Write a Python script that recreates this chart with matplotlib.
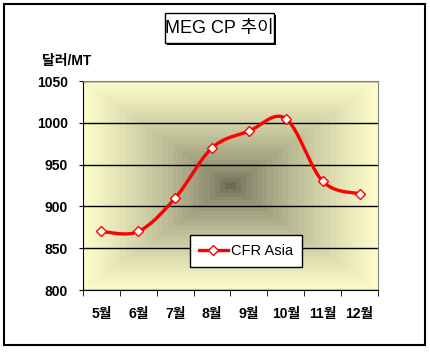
import numpy as np
import matplotlib
matplotlib.use('Agg')
from matplotlib import pyplot as plt
from matplotlib.patches import Rectangle
from matplotlib.colors import LinearSegmentedColormap

plt.rcParams['font.family'] = ['Liberation Sans', 'Noto Sans CJK KR']

months = ['5월', '6월', '7월', '8월', '9월', '10월', '11월', '12월']
cfr_asia = [870, 870, 910, 970, 990, 1005, 930, 915]
y_ticks = [800, 850, 900, 950, 1000, 1050]

W, H = 431, 354
fig = plt.figure(figsize=(W / 100, H / 100), dpi=100)

# outer frame
fig.patches.append(Rectangle((4 / W, 1 - 345 / H), 421 / W, 341 / H, transform=fig.transFigure,
                             fill=False, edgecolor='black', lw=1.5))

ax = fig.add_axes([83 / W, 1 - 290 / H, 295 / W, 209 / H])

# square "from centre" gradient like excel
ny, nx = 209, 295
gx = np.abs(np.linspace(-1, 1, nx))
gy = np.abs(np.linspace(-1, 1, ny))
d = np.maximum(gx[None, :], gy[:, None])
d = np.floor(d * 28) / 28
d = d ** 0.7
cmap = LinearSegmentedColormap.from_list('bg', ['#6d6d57', '#ffffcc'])
ax.imshow(d, cmap=cmap, vmin=0, vmax=1, extent=[-0.5, 7.5, 800, 1050],
          aspect='auto', zorder=-1, interpolation='nearest')

# smoothed line (catmull-rom like excel smoothing)
x = np.arange(len(cfr_asia), dtype=float)
y = np.array(cfr_asia, dtype=float)
px = np.concatenate([[x[0]], x, [x[-1]]])
py = np.concatenate([[y[0]], y, [y[-1]]])
sx, sy = [], []
t = np.linspace(0, 1, 30)
for i in range(1, len(px) - 2):
    p0, p1, p2, p3 = (px[i - 1], py[i - 1]), (px[i], py[i]), (px[i + 1], py[i + 1]), (px[i + 2], py[i + 2])
    c1 = (p1[0] + (p2[0] - p0[0]) / 6, p1[1] + (p2[1] - p0[1]) / 6)
    c2 = (p2[0] - (p3[0] - p1[0]) / 6, p2[1] - (p3[1] - p1[1]) / 6)
    for a, b in [(0, sx), (1, sy)]:
        b.extend((1 - t) ** 3 * p1[a] + 3 * (1 - t) ** 2 * t * c1[a] + 3 * (1 - t) * t ** 2 * c2[a] + t ** 3 * p2[a])
ax.plot(sx, sy, color='#ff0000', lw=2.4, zorder=3, solid_capstyle='round')
ax.plot(x, y, ls='none', marker='D', ms=5.5, mfc='white', mec='#ff0000', mew=1, zorder=4)
ax.plot([], [], color='#ff0000', lw=2.4, marker='D', ms=5.5, mfc='white', mec='#ff0000',
        mew=1, label='CFR Asia')

ax.set_xlim(-0.5, 7.5)
ax.set_ylim(800, 1050)
ax.set_yticks(y_ticks)
ax.set_yticklabels([str(v) for v in y_ticks], fontsize=10, fontweight='bold')
ax.set_xticks(x)
ax.set_xticklabels(months, fontsize=10, fontweight='bold')
ax.set_xticks(np.arange(-0.5, 8, 1), minor=True)
ax.tick_params(axis='x', which='major', length=0, pad=12)
ax.tick_params(axis='x', which='minor', length=4, direction='out', color='black')
ax.tick_params(axis='y', length=3, direction='out', pad=8)
ax.yaxis.grid(True, color='black', lw=1)
ax.set_axisbelow(True)
for s in ['top', 'right']:
    ax.spines[s].set_color('#808080')
for s in ['left', 'bottom']:
    ax.spines[s].set_color('black')

leg = ax.legend(loc='center', bbox_to_anchor=(0.552, 0.187), fancybox=False, framealpha=1,
                edgecolor='black', fontsize=10.5, handlelength=2.0, borderpad=0.6,
                handletextpad=0.2)
leg.get_frame().set_linewidth(1)

fig.text(42 / W, 1 - 61 / H, '달러/MT', fontsize=10, fontweight='bold', va='center', ha='left')

# title box with shadow
fig.patches.append(Rectangle((167 / W, 1 - 45 / H), 109 / W, 30 / H, transform=fig.transFigure,
                             facecolor='black', edgecolor='black', lw=0))
fig.patches.append(Rectangle((165 / W, 1 - 43 / H), 109 / W, 30 / H, transform=fig.transFigure,
                             facecolor='white', edgecolor='black', lw=1))
fig.text(219.5 / W, 1 - 28.5 / H, 'MEG CP 추이', fontsize=13, ha='center', va='center')

fig.savefig('out.png', dpi=100)
